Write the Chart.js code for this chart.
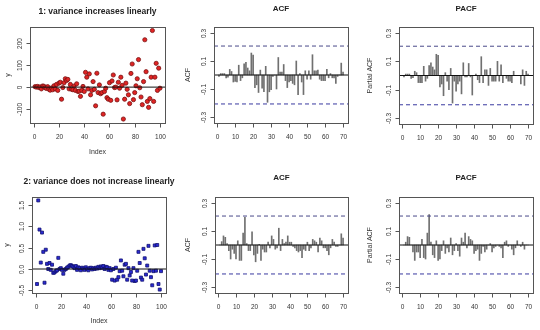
<!DOCTYPE html>
<html>
<head>
<meta charset="utf-8">
<script src="https://cdn.jsdelivr.net/npm/chart.js@4"></script>
<style>
  body { margin: 0; background: #fff; }
  #wrap { position: relative; width: 540px; height: 330px; }
  #wrap canvas { position: absolute; }
</style>
</head>
<body>
<div id="wrap">
  <canvas id="p1" width="180" height="165" style="left:0px;top:0px"></canvas>
  <canvas id="p2" width="180" height="165" style="left:180px;top:0px"></canvas>
  <canvas id="p3" width="180" height="165" style="left:360px;top:0px"></canvas>
  <canvas id="p4" width="180" height="165" style="left:0px;top:165px"></canvas>
  <canvas id="p5" width="180" height="165" style="left:180px;top:165px"></canvas>
  <canvas id="p6" width="180" height="165" style="left:360px;top:165px"></canvas>
</div>
<script>
// ---- data ----
var seriesLinear = [
  2, 0, 3, -2, 1, -8, 5, 4, -3, -6,
  2, -10, -14, -4, -12, 6, -8, 12, -15, 18,
  22, -55, -2, 20, 38, 30, 35, -8, 12, -10,
  -12, 5, -15, 15, -20, -18, -42, -15, 3, -20,
  67, 45, -8, 60, -35, -15, 25, -10, -85, 63,
  -25, 10, -30, -25, -123, -20, -5, -48, -55, 20,
  -60, 28, 55, -2, 0, -58, 22, -5, 45, 8,
  -145, -55, 18, -10, -35, -75, 62, 105, -57, -25,
  6, 38, 125, -3, -45, -80, 25, 215, 70, -65,
  -92, -52, 45, 257, -65, 45, 108, -15, 86, -5
];
var seriesNonLinear = [
  -0.35, 1.6, 0.92, 0.15, 0.85, 0.4, -0.32, 0.45, 0.12, 0.0,
  0.14, -0.02, 0.1, -0.09, -0.08, -0.05, -0.03, 0.26, 0.0, 0.02,
  -0.02, -0.11, -0.02, 0.0, 0.03, 0.05, 0.08, 0.09, 0.07, 0.05,
  0.02, 0.07, -0.02, 0.04, 0.02, -0.03, 0.03, 0.01, -0.02, 0.04,
  0.0, -0.03, 0.02, 0.03, -0.01, 0.02, 0.0, 0.03, 0.01, 0.05,
  0.02, 0.06, 0.03, 0.07, 0.0, 0.05, 0.04, -0.02, 0.02, -0.03,
  -0.25, 0.0, -0.27, 0.03, -0.25, -0.19, -0.05, 0.2, -0.04, -0.17,
  0.1, 0.12, -0.25, 0.02, -0.15, -0.07, -0.27, 0.02, -0.28, -0.27,
  -0.04, 0.4, 0.14, -0.2, -0.25, 0.47, 0.25, -0.13, 0.08, 0.54,
  -0.04, -0.19, -0.38, -0.05, 0.55, -0.04, 0.56, -0.35, -0.48, -0.05
];
var acfLinear = [
  -0.01, 0.01, 0.01, 0.01, -0.02, -0.015, 0.04, 0.025, -0.05, -0.045,
  -0.05, 0.07, -0.04, -0.02, 0.08, 0.09, 0.05, 0.03, 0.157, 0.143,
  -0.09, -0.07, -0.125, 0.035, -0.095, -0.12, 0.062, -0.195, -0.12, -0.105,
  -0.01, 0.0, -0.1, 0.125, 0.02, 0.02, 0.075, -0.04, -0.09, -0.05,
  -0.04, -0.06, -0.07, 0.1, -0.14, 0.01, -0.05, -0.14, 0.03, -0.03,
  0.03, -0.03, 0.145, 0.03, 0.03, 0.035, -0.03, -0.04, -0.04, -0.04,
  0.04, -0.02, 0.01, -0.02, -0.02, -0.06, -0.01, 0.0, 0.085, 0.02
];
var pacfLinear = [
  -0.01, 0.01, 0.01, 0.01, -0.02, -0.015, 0.03, 0.02, -0.05, -0.05,
  -0.05, 0.065, -0.04, -0.02, 0.07, 0.09, 0.06, 0.04, 0.15, 0.143,
  -0.08, -0.06, -0.143, 0.02, -0.04, -0.1, 0.05, -0.195, -0.04, -0.11,
  -0.06, -0.04, -0.13, 0.09, -0.01, -0.01, 0.085, -0.01, -0.138, 0.0,
  0.01, -0.03, -0.05, 0.133, -0.05, 0.04, 0.04, -0.07, 0.05, -0.04,
  -0.04, -0.04, 0.1, -0.04, 0.075, -0.05, 0.0, -0.02, -0.04, -0.04,
  -0.05, 0.03, 0.0, 0.0, 0.0, -0.06, 0.04, -0.07, 0.03, 0.01
];
var acfNonLinear = [
  0.0, 0.024, 0.065, 0.055, 0.01, -0.04, -0.1, -0.03, -0.06, -0.1,
  0.03, -0.11, -0.11, 0.085, 0.198, 0.01, -0.04, -0.04, 0.095, -0.07,
  -0.12, -0.06, 0.005, -0.11, -0.03, -0.05, -0.05, 0.02, -0.02, 0.065,
  0.04, -0.03, -0.02, 0.12, -0.04, 0.04, 0.01, 0.02, 0.065, 0.02,
  0.02, -0.01, -0.02, -0.04, -0.05, -0.04, -0.09, -0.03, -0.04, 0.02,
  -0.04, -0.02, 0.04, 0.03, 0.02, -0.05, 0.05, 0.03, -0.02, -0.02,
  -0.04, -0.07, -0.02, 0.04, 0.02, -0.01, -0.01, 0.0, 0.08, 0.05
];
var pacfNonLinear = [
  0.0, 0.02, 0.06, 0.055, 0.0, -0.05, -0.11, -0.05, -0.05, -0.09,
  0.04, -0.09, -0.1, 0.085, 0.217, 0.02, -0.07, -0.09, 0.03, -0.11,
  -0.1, -0.04, 0.03, -0.06, -0.02, -0.05, 0.05, -0.07, -0.04, 0.01,
  -0.04, -0.08, 0.05, 0.02, 0.085, -0.02, 0.06, 0.04, 0.03, -0.06,
  -0.04, -0.03, -0.11, -0.06, -0.01, -0.05, -0.03, 0.0, 0.01, -0.05,
  -0.02, -0.01, 0.0, -0.01, -0.02, -0.09, 0.02, 0.03, -0.01, 0.0,
  -0.03, -0.07, -0.02, 0.03, 0.0, -0.01, 0.02, -0.03, 0.0, 0.0
];
var ciBound = 0.207;

var indexTicks = [0, 20, 40, 60, 80, 100];
var lagTicks = [0, 10, 20, 30, 40, 50, 60, 70];
var yTicksLinear = [-100, 0, 100, 200];
var yTicksNonLinear = [-0.5, 0, 0.5, 1, 1.5];
var yLabelsNonLinear = ['-0.5', '0.0', '0.5', '1.0', '1.5'];
var acfTicks = [-0.3, -0.1, 0.1, 0.3];

// ---- R-like frame, ticks and titles ----
var rFrame = {
  id: 'rFrame',
  afterDraw: function (chart, args, o) {
    var c = chart.ctx, a = chart.chartArea;
    var xs = chart.scales.x, ys = chart.scales.y;
    var L = Math.round(a.left), T = Math.round(a.top), R = Math.round(a.right), B = Math.round(a.bottom);
    c.save();
    c.strokeStyle = '#555';
    c.lineWidth = 1;
    c.strokeRect(L + 0.5, T + 0.5, R - L, B - T);

    c.fillStyle = '#333';
    c.font = '6.5px "Liberation Sans", Arial, sans-serif';
    c.textAlign = 'center';
    c.textBaseline = 'middle';
    o.xTicks.forEach(function (v) {
      var px = Math.round(xs.getPixelForValue(v)) + 0.5;
      c.beginPath(); c.moveTo(px, B + 0.5); c.lineTo(px, B + 4.5); c.stroke();
      c.fillText(String(v), px, B + 14);
    });
    o.yTicks.forEach(function (v, i) {
      var py = Math.round(ys.getPixelForValue(v)) + 0.5;
      c.beginPath(); c.moveTo(L + 0.5, py); c.lineTo(L - 3.5, py); c.stroke();
      c.save();
      c.translate(L - 10, py);
      c.rotate(-Math.PI / 2);
      c.fillText(o.yLabels ? o.yLabels[i] : String(v), 0, 0);
      c.restore();
    });

    c.font = '7px "Liberation Sans", Arial, sans-serif';
    if (o.xTitle) c.fillText(o.xTitle, (L + R) / 2, o.xTitleY);
    c.save();
    c.translate(o.yTitleX, (T + B) / 2);
    c.rotate(-Math.PI / 2);
    c.fillText(o.yTitle, 0, 0);
    c.restore();

    c.fillStyle = '#222';
    c.font = 'bold ' + o.titleSize + 'px "Liberation Sans", Arial, sans-serif';
    c.fillText(o.title, (L + R) / 2, o.titleY);
    c.restore();
  }
};

function hline(y, x0, x1, color, dash) {
  return {
    type: 'line',
    data: [{ x: x0, y: y }, { x: x1, y: y }],
    borderColor: color,
    borderWidth: 1,
    borderDash: dash || [],
    pointRadius: 0,
    order: 0
  };
}

function baseOptions(pad, xr, yr, frame) {
  return {
    responsive: false,
    animation: false,
    devicePixelRatio: 1,
    layout: { padding: pad },
    scales: {
      x: { type: 'linear', display: false, min: xr[0], max: xr[1], offset: false },
      y: { type: 'linear', display: false, min: yr[0], max: yr[1] }
    },
    plugins: { legend: { display: false }, tooltip: { enabled: false }, rFrame: frame }
  };
}

function scatterPanel(id, pad, values, yr, fill, edge, style, frame) {
  var pts = values.map(function (v, i) { return { x: i + 1, y: v }; });
  var xr = [-3, 104];
  new Chart(document.getElementById(id), {
    type: 'scatter',
    data: {
      datasets: [
        hline(0, xr[0], xr[1], '#111'),
        {
          data: pts,
          pointStyle: style,
          pointRadius: 2.1,
          pointBackgroundColor: fill,
          pointBorderColor: edge,
          pointBorderWidth: 0.8,
          order: 1
        }
      ]
    },
    options: baseOptions(pad, xr, yr, frame),
    plugins: [rFrame]
  });
}

function acfPanel(id, pad, values, frame) {
  var pts = values.map(function (v, i) { return { x: i + 1, y: v }; });
  var xr = [-1.76, 72.76];
  new Chart(document.getElementById(id), {
    type: 'bar',
    data: {
      datasets: [
        hline(0, xr[0], xr[1], '#111'),
        hline(ciBound, xr[0], xr[1], '#4a4a8a', [4, 3]),
        hline(-ciBound, xr[0], xr[1], '#3a3aa0', [4, 3]),
        {
          type: 'bar',
          data: pts,
          backgroundColor: '#707070',
          barThickness: 1,
          order: 1
        }
      ]
    },
    options: baseOptions(pad, xr, [-0.343, 0.343], frame),
    plugins: [rFrame]
  });
}

scatterPanel('p1', { left: 30, top: 27, right: 15, bottom: 42 }, seriesLinear, [-163, 273],
  '#e02424', '#7a1212', 'circle',
  { title: '1: variance increases linearly', titleY: 12, titleSize: 8.5,
    xTicks: indexTicks, yTicks: yTicksLinear, xTitle: 'Index', xTitleY: 152, yTitle: 'y', yTitleX: 8 });

acfPanel('p2', { left: 34, top: 27, right: 12, bottom: 42 }, acfLinear,
  { title: 'ACF', titleY: 9, titleSize: 8, xTicks: lagTicks, yTicks: acfTicks, yTitle: 'ACF', yTitleX: 8 });

acfPanel('p3', { left: 39, top: 27, right: 7, bottom: 41 }, pacfLinear,
  { title: 'PACF', titleY: 9, titleSize: 8, xTicks: lagTicks, yTicks: acfTicks, yTitle: 'Partial ACF', yTitleX: 10 });

scatterPanel('p4', { left: 32, top: 32, right: 14, bottom: 37 }, seriesNonLinear, [-0.56, 1.68],
  '#2a2ad6', '#12126e', 'rect',
  { title: '2: variance does not increase linearly', titleY: 17, titleSize: 8.5,
    xTicks: indexTicks, yTicks: yTicksNonLinear, yLabels: yLabelsNonLinear, xTitle: 'Index', xTitleY: 156, yTitle: 'y', yTitleX: 7 });

acfPanel('p5', { left: 35, top: 32, right: 12, bottom: 37 }, acfNonLinear,
  { title: 'ACF', titleY: 13, titleSize: 8, xTicks: lagTicks, yTicks: acfTicks, yTitle: 'ACF', yTitleX: 8 });

acfPanel('p6', { left: 39, top: 32, right: 7, bottom: 37 }, pacfNonLinear,
  { title: 'PACF', titleY: 13, titleSize: 8, xTicks: lagTicks, yTicks: acfTicks, yTitle: 'Partial ACF', yTitleX: 10 });
</script>
</body>
</html>
